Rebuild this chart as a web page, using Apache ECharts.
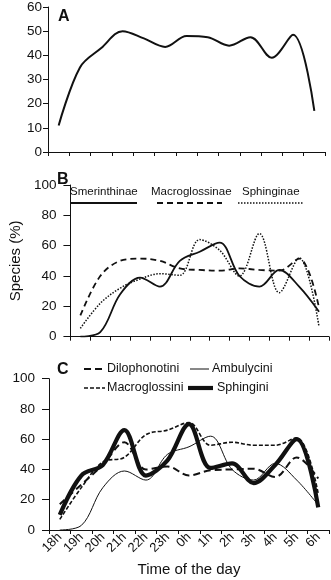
<!DOCTYPE html>
<html>
<head>
<meta charset="utf-8">
<script src="https://cdn.jsdelivr.net/npm/echarts@6/dist/echarts.min.js"></script>
<style>
  html, body { margin: 0; padding: 0; background: #fff; }
  #chart { width: 331px; height: 580px; }
</style>
</head>
<body>
<div id="chart"></div>
<script>
// time of the day (categories shared by the three panels)
var hours = ['18h', '19h', '20h', '21h', '22h', '23h', '0h', '1h', '2h', '3h', '4h', '5h', '6h'];

// A - all species
var allSpecies = [11, 35, 43, 50, 47, 43.5, 48, 47.5, 44, 47.5, 39, 48.5, 17];

// B - subfamilies
var smerinthinae = [0, 3, 28, 39, 33, 50, 56, 62, 40, 33, 44, 33, 16.5];
var macroglossinae = [14, 40, 50, 51.5, 50, 45, 44, 43.5, 45, 44, 43.5, 51.5, 19];
var sphinginae = [5.5, 22, 32, 38, 41.5, 40.5, 64, 57, 40, 68, 29, 52, 6.5];

// C - tribes
var dilophonotini = [17, 30, 43, 58, 40, 42, 36, 39.5, 40, 40.5, 35, 48, 34];
var macroglossini = [7, 28, 45, 48, 63, 66, 71, 56, 58, 56, 56, 61, 24];
var ambulycini = [0, 3, 28, 39, 33, 50, 55, 62, 40, 33, 44, 33, 16.5];
var sphingini = [10, 36, 43, 66, 36, 46, 70, 41, 44, 31, 43, 60, 15];

var yTicksA = { min: 0, max: 60, interval: 10 };
var yTicksBC = { min: 0, max: 100, interval: 20 };

var ink = '#111';
var font = 'Liberation Sans, Arial, sans-serif';
var smoothness = 0.35;

function xAxis(gridIndex, showLabels) {
  return {
    type: 'category',
    gridIndex: gridIndex,
    data: hours,
    boundaryGap: true,
    axisLine: { lineStyle: { color: ink, width: 1 } },
    axisTick: { show: true, length: 4, lineStyle: { color: ink } },
    axisLabel: {
      show: showLabels,
      rotate: 45,
      margin: 5,
      interval: 0,
      color: ink,
      fontSize: 13,
      fontFamily: font
    },
    splitLine: { show: false }
  };
}

function yAxis(gridIndex, ticks, tickLen, margin) {
  return {
    type: 'value',
    gridIndex: gridIndex,
    min: ticks.min,
    max: ticks.max,
    interval: ticks.interval,
    axisLine: { show: true, lineStyle: { color: ink, width: 1 } },
    axisTick: { show: true, length: tickLen, lineStyle: { color: ink } },
    axisLabel: { color: ink, fontSize: 13.5, fontFamily: font, margin: margin },
    splitLine: { show: false }
  };
}

function line(name, idx, data, width, dash) {
  return {
    name: name,
    type: 'line',
    xAxisIndex: idx,
    yAxisIndex: idx,
    data: data,
    smooth: smoothness,
    symbol: 'none',
    silent: true,
    lineStyle: { color: ink, width: width, type: dash || 'solid' }
  };
}

var chart = echarts.init(document.getElementById('chart'), null, { renderer: 'canvas' });

var xs = [xAxis(0, false), xAxis(1, false), xAxis(2, true)];
xs[2].name = 'Time of the day';
xs[2].nameLocation = 'middle';
xs[2].nameGap = 32;
xs[2].nameTextStyle = { color: ink, fontSize: 15, fontFamily: font };

var ys = [yAxis(0, yTicksA, 5, 6), yAxis(1, yTicksBC, 7, 14), yAxis(2, yTicksBC, 7, 14)];
ys[1].name = 'Species (%)';
ys[1].nameLocation = 'middle';
ys[1].nameGap = 37;
ys[1].nameTextStyle = { color: ink, fontSize: 15, fontFamily: font };

function txt(x, y, s, size, bold) {
  return {
    type: 'text', x: x, y: y, silent: true,
    style: {
      text: s, fill: ink, font: (bold ? 'bold ' : '') + size + 'px ' + font,
      textVerticalAlign: 'middle'
    }
  };
}
function key(x1, x2, y, width, dash) {
  return {
    type: 'line', silent: true,
    shape: { x1: x1, y1: y, x2: x2, y2: y },
    style: { stroke: ink, lineWidth: width, lineDash: dash || null }
  };
}

var option = {
  animation: false,
  backgroundColor: '#fff',
  grid: [
    { left: 48, right: 6, top: 6, height: 146 },
    { left: 49, right: 2, top: 185, height: 151.7 },
    { left: 49, right: 2, top: 378.7, height: 151.3 }
  ],
  xAxis: xs,
  yAxis: ys,
  series: [
    line('All', 0, allSpecies, 2),
    line('Smerinthinae', 1, smerinthinae, 1.8),
    line('Macroglossinae', 1, macroglossinae, 1.8, [6, 4]),
    line('Sphinginae', 1, sphinginae, 1.5, [1.5, 1.5]),
    line('Ambulycini', 2, ambulycini, 1),
    line('Dilophonotini', 2, dilophonotini, 2, [7, 4]),
    line('Macroglossini', 2, macroglossini, 1.6, [4, 2]),
    line('Sphingini', 2, sphingini, 4.2)
  ],
  graphic: [
    // panel letters
    txt(58, 17, 'A', 16, true),
    txt(57, 180, 'B', 16, true),
    txt(57, 370, 'C', 16, true),
    // legend B: name above the line sample
    txt(70, 192, 'Smerinthinae', 11.5),
    key(70, 137, 203, 1.8),
    txt(151, 192, 'Macroglossinae', 11.5),
    key(157, 222, 203, 1.8, [6, 4]),
    txt(242, 192, 'Sphinginae', 11.5),
    key(238, 304, 203, 1.5, [1.5, 1.5]),
    // legend C
    key(84, 105, 369, 2, [7, 4]),
    txt(107, 369, 'Dilophonotini', 12.5),
    key(190, 209, 369, 1),
    txt(212, 369, 'Ambulycini', 12.5),
    key(84, 105, 388, 1.6, [4, 2]),
    txt(107, 388, 'Macroglossini', 12.5),
    key(188, 213, 388, 4.2),
    txt(217, 388, 'Sphingini', 12.5)
  ]
};

chart.setOption(option);
</script>
</body>
</html>
